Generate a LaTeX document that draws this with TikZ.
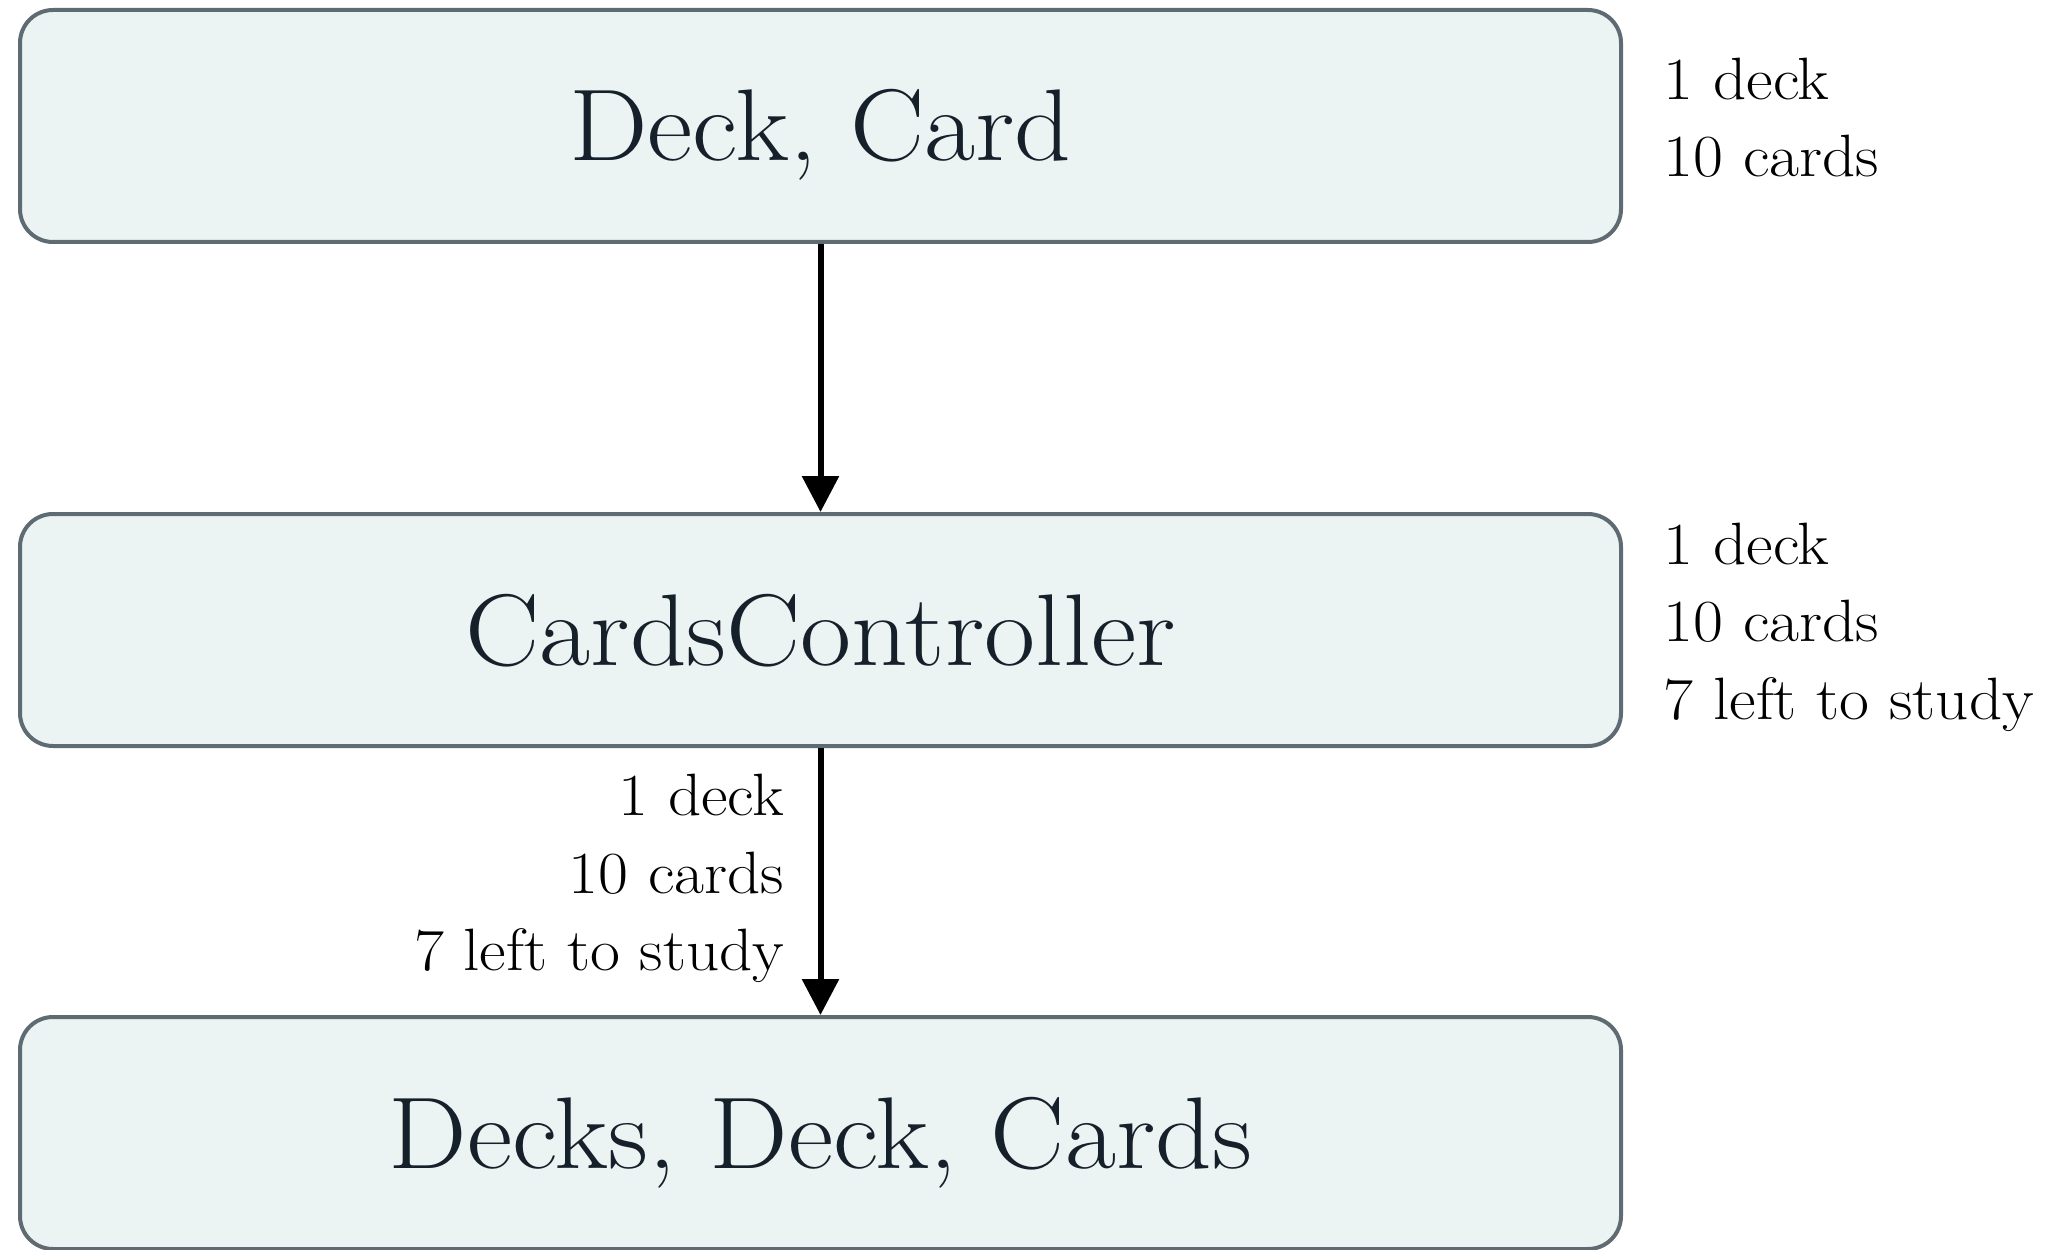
\documentclass[tikz,border=0pt]{standalone}
\usepackage{fontspec}
\setmainfont{Latin Modern Roman}[FakeStretch=1.09]
\usetikzlibrary{arrows.meta}
\definecolor{boxfill}{HTML}{ECF4F3}
\definecolor{boxline}{HTML}{5F6B73}
\definecolor{txt}{HTML}{15202A}
\tikzset{
  layerbox/.style={draw=boxline, fill=boxfill, line width=0.04cm, rounded corners=0.33cm,
    minimum width=16.01cm, minimum height=2.32cm, inner sep=0pt,
    text height=0.70cm, text depth=0pt, text=txt,
    font=\fontsize{29}{35}\selectfont},
  flow/.style={line width=0.06cm, -{Triangle[width=0.36cm,length=0.36cm]}},
  note/.style={inner sep=0pt, text=black, font=\fontsize{17}{21}\selectfont}
}
\begin{document}
\begin{tikzpicture}
\useasboundingbox (0,0) rectangle (20.61,-12.50);
\node[layerbox] (model) at (8.205,-1.26) {Deck, Card};
\node[layerbox] (ctrl) at (8.205,-6.30) {CardsController};
\node[layerbox] (view) at (8.205,-11.33) {Decks, Deck, Cards};

\draw[flow] (model.south) -- (ctrl.north);
\draw[flow] (ctrl.south) -- (view.north);

\node[note, anchor=base west] (m1) at (16.63,-1.00) {1 deck};
\node[note, anchor=base west] (m2) at (16.63,-1.77) {10 cards};

\node[note, anchor=base west] (c1) at (16.63,-5.64) {1 deck};
\node[note, anchor=base west] (c2) at (16.63,-6.41) {10 cards};
\node[note, anchor=base west] (c3) at (16.63,-7.19) {7 left to study};

\node[note, anchor=base east] (a1) at (7.85,-8.15) {1 deck};
\node[note, anchor=base east] (a2) at (7.85,-8.93) {10 cards};
\node[note, anchor=base east] (a3) at (7.85,-9.70) {7 left to study};
\end{tikzpicture}
\end{document}
